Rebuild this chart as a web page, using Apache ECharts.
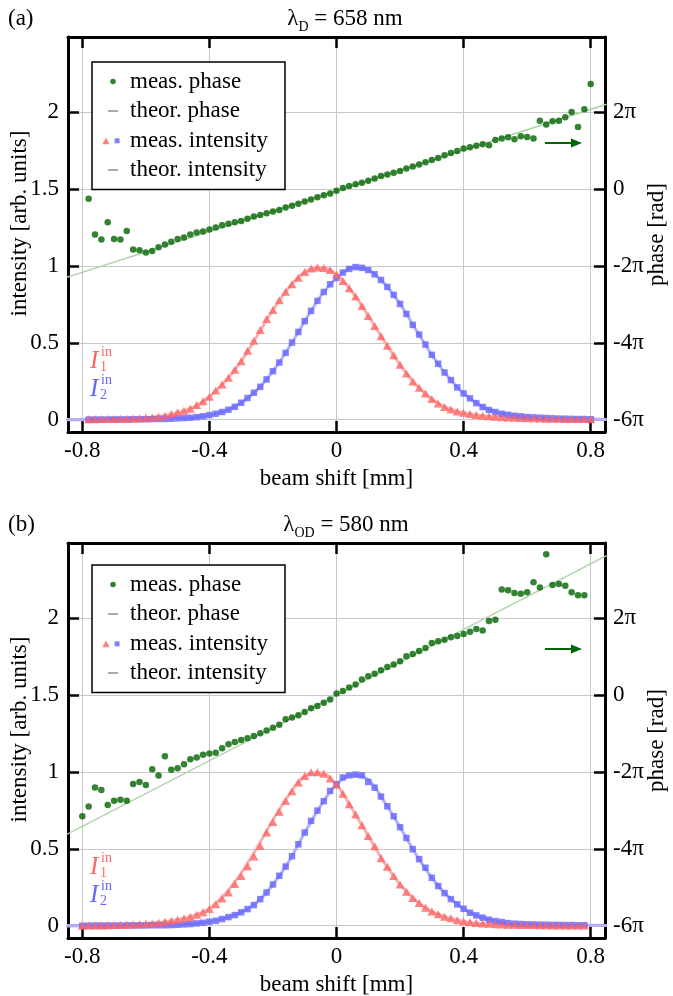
<!DOCTYPE html>
<html>
<head>
<meta charset="utf-8">
<script src="https://cdn.jsdelivr.net/npm/echarts@6/dist/echarts.min.js"></script>
<style>
html, body { margin: 0; padding: 0; background: #fff; }
#chart { width: 673px; height: 996px; }
</style>
</head>
<body>
<div id="chart"></div>
<script>
// beam shift [mm] of the measured points (both panels)
var shift = [
  -0.80, -0.78, -0.76, -0.74, -0.72, -0.70, -0.68, -0.66, -0.64, -0.62,
  -0.60, -0.58, -0.56, -0.54, -0.52, -0.50, -0.48, -0.46, -0.44, -0.42,
  -0.40, -0.38, -0.36, -0.34, -0.32, -0.30, -0.28, -0.26, -0.24, -0.22,
  -0.20, -0.18, -0.16, -0.14, -0.12, -0.10, -0.08, -0.06, -0.04, -0.02,
  0.00, 0.02, 0.04, 0.06, 0.08, 0.10, 0.12, 0.14, 0.16, 0.18,
  0.20, 0.22, 0.24, 0.26, 0.28, 0.30, 0.32, 0.34, 0.36, 0.38,
  0.40, 0.42, 0.44, 0.46, 0.48, 0.50, 0.52, 0.54, 0.56, 0.58,
  0.60, 0.62, 0.64, 0.66, 0.68, 0.70, 0.72, 0.74, 0.76, 0.78,
  0.80
];

// measured phase, in units of pi rad
var phaseA = [
  null, -0.25, -1.18, -1.31, -0.86, -1.30, -1.31, -1.09, -1.57, -1.59,
  -1.65, -1.61, -1.51, -1.44, -1.37, -1.30, -1.26, -1.18, -1.13, -1.10,
  -1.05, -1.00, -0.94, -0.90, -0.86, -0.83, -0.77, -0.71, -0.67, -0.63,
  -0.58, -0.54, -0.48, -0.43, -0.38, -0.32, -0.27, -0.21, -0.16, -0.11,
  -0.04, 0.03, 0.08, 0.13, 0.17, 0.22, 0.28, 0.34, 0.38, 0.43,
  0.47, 0.54, 0.59, 0.64, 0.70, 0.76, 0.81, 0.88, 0.94, 0.99,
  1.06, 1.09, 1.13, 1.17, 1.14, 1.28, 1.32, 1.35, 1.30, 1.38,
  1.36, 1.32, 1.78, 1.68, 1.77, 1.78, 1.87, 2.01, 1.62, 2.08,
  2.74
];
var phaseB = [
  -3.15, -2.90, -2.40, -2.47, -2.86, -2.75, -2.72, -2.75, -2.31, -2.26,
  -2.34, -1.93, -2.09, -1.59, -1.94, -1.90, -1.80, -1.67, -1.62, -1.55,
  -1.52, -1.50, -1.38, -1.28, -1.22, -1.17, -1.12, -1.06, -0.99, -0.92,
  -0.85, -0.77, -0.63, -0.58, -0.52, -0.44, -0.34, -0.28, -0.20, -0.11,
  0.04, 0.11, 0.20, 0.28, 0.41, 0.49, 0.56, 0.65, 0.73, 0.80,
  0.88, 1.01, 1.07, 1.15, 1.23, 1.36, 1.40, 1.44, 1.51, 1.54,
  1.59, 1.65, 1.72, 1.68, 1.93, 1.96, 2.75, 2.73, 2.66, 2.64,
  2.68, 2.94, 2.80, 3.67, 2.87, 2.89, 2.85, 2.68, 2.60, 2.60,
  null
];

// measured intensities I1 (triangles) and I2 (squares)
var int1A = [
  null, 0.003, 0.003, 0.004, 0.004, 0.005, 0.006, 0.007, 0.008, 0.010,
  0.012, 0.015, 0.020, 0.026, 0.037, 0.048, 0.058, 0.072, 0.095, 0.120,
  0.150, 0.190, 0.229, 0.273, 0.325, 0.381, 0.448, 0.513, 0.584, 0.656,
  0.714, 0.777, 0.833, 0.881, 0.924, 0.961, 0.983, 0.991, 0.987, 0.974,
  0.944, 0.903, 0.855, 0.801, 0.740, 0.675, 0.610, 0.543, 0.481, 0.420,
  0.357, 0.301, 0.249, 0.208, 0.171, 0.134, 0.106, 0.082, 0.067, 0.054,
  0.045, 0.037, 0.030, 0.026, 0.022, 0.019, 0.016, 0.014, 0.012, 0.011,
  0.010, 0.009, 0.008, 0.007, 0.007, 0.006, 0.005, 0.005, 0.004, 0.004,
  0.003
];
var int2A = [
  null, 0.001, 0.001, 0.001, 0.001, 0.002, 0.002, 0.002, 0.003, 0.003,
  0.003, 0.004, 0.005, 0.005, 0.006, 0.009, 0.011, 0.013, 0.017, 0.022,
  0.030, 0.039, 0.050, 0.065, 0.084, 0.110, 0.141, 0.175, 0.214, 0.262,
  0.316, 0.372, 0.435, 0.502, 0.571, 0.641, 0.708, 0.773, 0.831, 0.881,
  0.922, 0.957, 0.981, 0.993, 0.988, 0.974, 0.946, 0.909, 0.864, 0.812,
  0.753, 0.688, 0.617, 0.554, 0.489, 0.422, 0.364, 0.307, 0.258, 0.210,
  0.171, 0.139, 0.108, 0.082, 0.063, 0.050, 0.039, 0.032, 0.026, 0.022,
  0.017, 0.015, 0.013, 0.011, 0.009, 0.007, 0.006, 0.005, 0.004, 0.004,
  0.003
];
var int1B = [
  0.000, 0.001, 0.002, 0.002, 0.003, 0.004, 0.005, 0.006, 0.008, 0.010,
  0.012, 0.015, 0.019, 0.025, 0.032, 0.039, 0.048, 0.056, 0.071, 0.087,
  0.108, 0.139, 0.177, 0.216, 0.271, 0.323, 0.387, 0.450, 0.519, 0.606,
  0.675, 0.742, 0.812, 0.874, 0.931, 0.974, 0.998, 0.998, 0.989, 0.957,
  0.918, 0.859, 0.790, 0.723, 0.654, 0.584, 0.517, 0.439, 0.383, 0.323,
  0.268, 0.221, 0.180, 0.147, 0.117, 0.093, 0.074, 0.058, 0.048, 0.035,
  0.028, 0.022, 0.017, 0.014, 0.012, 0.010, 0.008, 0.007, 0.006, 0.005,
  0.004, 0.004, 0.003, 0.003, 0.002, 0.002, 0.002, 0.001, 0.001, 0.001,
  null
];
var int2B = [
  0.000, 0.000, 0.001, 0.001, 0.001, 0.001, 0.001, 0.002, 0.002, 0.002,
  0.002, 0.003, 0.003, 0.003, 0.004, 0.006, 0.009, 0.011, 0.015, 0.019,
  0.026, 0.032, 0.043, 0.056, 0.069, 0.087, 0.108, 0.134, 0.173, 0.216,
  0.268, 0.325, 0.385, 0.452, 0.530, 0.606, 0.682, 0.749, 0.810, 0.877,
  0.920, 0.965, 0.978, 0.983, 0.978, 0.935, 0.898, 0.840, 0.777, 0.712,
  0.641, 0.571, 0.498, 0.433, 0.377, 0.312, 0.258, 0.212, 0.173, 0.139,
  0.110, 0.084, 0.067, 0.052, 0.039, 0.030, 0.024, 0.017, 0.013, 0.011,
  0.009, 0.008, 0.007, 0.006, 0.005, 0.005, 0.004, 0.004, 0.003, 0.003,
  null
];

// theoretical curves
var theoryShift = [
  -0.85, -0.80, -0.75, -0.70, -0.65, -0.60, -0.55, -0.50, -0.45, -0.40,
  -0.35, -0.30, -0.25, -0.20, -0.15, -0.10, -0.05, 0.00, 0.05, 0.10,
  0.15, 0.20, 0.25, 0.30, 0.35, 0.40, 0.45, 0.50, 0.55, 0.60,
  0.65, 0.70, 0.75, 0.80, 0.85
];
var theo1A = [
  0.001, 0.002, 0.003, 0.005, 0.007, 0.012, 0.022, 0.045, 0.082, 0.150,
  0.250, 0.380, 0.545, 0.714, 0.858, 0.961, 0.990, 0.946, 0.830, 0.675,
  0.512, 0.357, 0.228, 0.134, 0.075, 0.045, 0.028, 0.019, 0.013, 0.010,
  0.007, 0.006, 0.004, 0.003, 0.002
];
var theo2A = [
  0.000, 0.000, 0.001, 0.001, 0.002, 0.003, 0.005, 0.009, 0.015, 0.030,
  0.057, 0.110, 0.194, 0.316, 0.468, 0.641, 0.802, 0.922, 0.988, 0.974,
  0.887, 0.753, 0.586, 0.422, 0.282, 0.171, 0.095, 0.050, 0.029, 0.017,
  0.012, 0.007, 0.005, 0.003, 0.002
];
var theo1B = [
  0.000, 0.000, 0.002, 0.004, 0.007, 0.012, 0.022, 0.040, 0.066, 0.112,
  0.208, 0.342, 0.508, 0.688, 0.850, 0.974, 0.995, 0.918, 0.757, 0.584,
  0.411, 0.268, 0.163, 0.093, 0.053, 0.028, 0.015, 0.010, 0.006, 0.004,
  0.003, 0.002, 0.001, 0.001, 0.001
];
var theo2B = [
  0.000, 0.000, 0.001, 0.001, 0.002, 0.002, 0.003, 0.006, 0.013, 0.026,
  0.049, 0.087, 0.153, 0.268, 0.418, 0.606, 0.780, 0.920, 0.981, 0.950,
  0.808, 0.641, 0.465, 0.312, 0.192, 0.110, 0.060, 0.030, 0.015, 0.009,
  0.007, 0.005, 0.004, 0.003, 0.002
];
var phaseLineShift = [-0.85, 0.85];
var phaseTheoA = [-2.30, 2.21];
var phaseTheoB = [-3.63, 3.63];

var intTicks = [0, 0.5, 1, 1.5, 2];
var phaseTicks = [-6, -4, -2, 0, 2];
var shiftTicks = [-0.8, -0.4, 0, 0.4, 0.8];

var FONT = '"Liberation Serif", "Times New Roman", serif';
var GREEN = '#006400';
var RED = '#ff6464';
var BLUE = '#6464ff';
var panelTop = [37, 543];
var legendTop = [62, 565];

function pairs(xs, ys) {
  var out = [];
  for (var i = 0; i < xs.length; i++) {
    if (ys[i] != null) out.push([xs[i], ys[i]]);
  }
  return out;
}

function svgIcon(body) {
  return 'image://data:image/svg+xml;charset=utf-8,' + encodeURIComponent(
    '<svg xmlns="http://www.w3.org/2000/svg" width="25" height="10" viewBox="0 0 25 10">' + body + '</svg>');
}
var iconDot = svgIcon('<circle cx="13" cy="5" r="2.8" fill="' + GREEN + '"/>');
var iconLine = svgIcon('<rect x="8" y="4" width="10" height="2" fill="#aaaaaa"/>');
var iconMeas = svgIcon('<polygon points="2.3,8.8 9.7,8.8 6,2" fill="' + RED + '"/>' +
  '<rect x="14.6" y="2.8" width="5" height="5" fill="' + BLUE + '"/>');

var panels = [
  { phase: phaseA, i1: int1A, i2: int2A, t1: theo1A, t2: theo2A, pt: phaseTheoA },
  { phase: phaseB, i1: int1B, i2: int2B, t1: theo1B, t2: theo2B, pt: phaseTheoB }
];

var grids = [], xAxes = [], yAxes = [], series = [], legends = [];
var txt = { fontFamily: FONT, fontSize: 23, color: '#000' };
var frame = { onZero: false, lineStyle: { color: '#000', width: 3 } };
function ticks(vals) {
  return { inside: true, length: 11, customValues: vals, lineStyle: { color: '#000', width: 2.5 } };
}

panels.forEach(function (p, k) {
  grids.push({
    left: 68, top: panelTop[k], width: 537, height: 395,
    containLabel: false, outerBoundsMode: 'none'
  });
  // bottom and top shift axes
  xAxes.push({
    type: 'value', gridIndex: k, position: 'bottom', min: -0.845, max: 0.845,
    axisLine: frame, axisTick: ticks(shiftTicks),
    axisLabel: Object.assign({ customValues: shiftTicks, margin: 7 }, txt),
    splitLine: { show: true, lineStyle: { color: '#c8c8c8', width: 1 } },
    name: 'beam shift [mm]', nameLocation: 'middle', nameGap: 35, nameMoveOverlap: false,
    nameTextStyle: txt
  });
  xAxes.push({
    type: 'value', gridIndex: k, position: 'top', min: -0.845, max: 0.845,
    axisLine: frame, axisTick: ticks(shiftTicks),
    axisLabel: { show: false }, splitLine: { show: false }
  });
  // intensity (left) and phase (right) axes
  yAxes.push({
    type: 'value', gridIndex: k, position: 'left', min: -0.08, max: 2.49,
    axisLine: frame, axisTick: ticks(intTicks),
    axisLabel: Object.assign({ customValues: intTicks, margin: 9 }, txt),
    splitLine: { show: true, lineStyle: { color: '#c8c8c8', width: 1 } },
    name: 'intensity [arb. units]', nameLocation: 'middle', nameRotate: 90, nameGap: 37,
    nameMoveOverlap: false,
    nameTextStyle: Object.assign({ padding: [0, 0, 0, 22] }, txt)
  });
  yAxes.push({
    type: 'value', gridIndex: k, position: 'right', min: -6.32, max: 3.96,
    axisLine: frame, axisTick: ticks(phaseTicks),
    axisLabel: Object.assign({
      customValues: phaseTicks, margin: 8,
      formatter: function (v) { return v === 0 ? '0' : v + 'π'; }
    }, txt),
    splitLine: { show: false },
    name: 'phase [rad]', nameLocation: 'middle', nameRotate: 90, nameGap: 40,
    nameMoveOverlap: false,
    nameTextStyle: txt
  });

  var xi = 2 * k, yi = 2 * k, yp = 2 * k + 1;
  series.push({
    name: 'theor. intensity', type: 'line', xAxisIndex: xi, yAxisIndex: yi,
    data: pairs(theoryShift, p.t1), smooth: 0.35, showSymbol: false, symbol: 'none',
    lineStyle: { color: '#f7b0b0', width: 3 }, z: 1
  });
  series.push({
    name: 'theor. intensity', type: 'line', xAxisIndex: xi, yAxisIndex: yi,
    data: pairs(theoryShift, p.t2), smooth: 0.35, showSymbol: false, symbol: 'none',
    lineStyle: { color: '#b0b0f7', width: 3 }, z: 1
  });
  series.push({
    name: 'theor. phase', type: 'line', xAxisIndex: xi, yAxisIndex: yp,
    data: pairs(phaseLineShift, p.pt), showSymbol: false, symbol: 'none',
    lineStyle: { color: '#acd3a6', width: 1.4 }, z: 1
  });
  series.push({
    name: 'meas. intensity', type: 'scatter', xAxisIndex: xi, yAxisIndex: yi,
    data: pairs(shift, p.i2), symbol: 'rect', symbolSize: 6.5,
    itemStyle: { color: BLUE }, z: 3
  });
  series.push({
    name: 'meas. intensity', type: 'scatter', xAxisIndex: xi, yAxisIndex: yi,
    data: pairs(shift, p.i1), symbol: 'triangle', symbolSize: [9, 8],
    itemStyle: { color: RED }, z: 3
  });
  series.push({
    name: 'meas. phase', type: 'scatter', xAxisIndex: xi, yAxisIndex: yp,
    data: pairs(shift, p.phase), symbol: 'circle', symbolSize: 6.5,
    itemStyle: { color: GREEN }, z: 4
  });

  legends.push({
    orient: 'vertical', left: 92, top: legendTop[k],
    padding: [8, 17, 8, 8], itemGap: 6.5, itemWidth: 25, itemHeight: 10,
    backgroundColor: '#fff', borderColor: '#000', borderWidth: 1.5, borderRadius: 0,
    selectedMode: false,
    textStyle: { fontFamily: FONT, fontSize: 23, color: '#000', lineHeight: 22 },
    data: [
      { name: 'meas. phase', icon: iconDot },
      { name: 'theor. phase', icon: iconLine },
      { name: 'meas. intensity', icon: iconMeas },
      { name: 'theor. intensity', icon: iconLine }
    ]
  });
});

// panel labels, titles, I labels and the "phase belongs to right axis" arrows
var graphics = [];
var titles = [
  { tag: '(a)', sub: 'D', rest: ' = 658 nm', cx: 345, cy: 19 },
  { tag: '(b)', sub: 'OD', rest: ' = 580 nm', cx: 346, cy: 525 }
];
titles.forEach(function (t, k) {
  var dy = panelTop[k] - panelTop[0];
  graphics.push({
    type: 'text', x: 8, y: t.cy,
    style: { text: t.tag, fontFamily: FONT, fontSize: 23, fill: '#000', verticalAlign: 'middle' }
  });
  graphics.push({
    type: 'text', x: t.cx, y: t.cy,
    style: {
      text: '{m|λ}{s|' + t.sub + '}{m|' + t.rest + '}', align: 'center', verticalAlign: 'middle',
      rich: {
        m: { fontFamily: FONT, fontSize: 23, fill: '#000', lineHeight: 30, verticalAlign: 'middle' },
        s: { fontFamily: FONT, fontSize: 14, fill: '#000', lineHeight: 30, verticalAlign: 'bottom' }
      }
    }
  });
  [[RED, '1', 0], [BLUE, '2', 28]].forEach(function (lab) {
    var y0 = 361 + dy + lab[2];
    graphics.push({
      type: 'text', x: 90, y: y0,
      style: { text: 'I', fontFamily: FONT, fontStyle: 'italic', fontSize: 25, fill: lab[0], verticalAlign: 'middle' }
    });
    graphics.push({
      type: 'text', x: 101, y: y0 - 9,
      style: { text: 'in', fontFamily: FONT, fontSize: 14, fill: lab[0], verticalAlign: 'middle' }
    });
    graphics.push({
      type: 'text', x: 100, y: y0 + 6,
      style: { text: lab[1], fontFamily: FONT, fontSize: 14, fill: lab[0], verticalAlign: 'middle' }
    });
  });
  var ay = 143 + dy;
  graphics.push({
    type: 'line', shape: { x1: 545, y1: ay, x2: 573, y2: ay },
    style: { stroke: GREEN, lineWidth: 2 }
  });
  graphics.push({
    type: 'polygon', shape: { points: [[582, ay], [571, ay - 4.5], [571, ay + 4.5]] },
    style: { fill: GREEN }
  });
});

var chart = echarts.init(document.getElementById('chart'), null, { renderer: 'canvas' });
chart.setOption({
  backgroundColor: '#fff',
  animation: false,
  grid: grids,
  xAxis: xAxes,
  yAxis: yAxes,
  legend: legends,
  series: series,
  graphic: graphics
});
</script>
</body>
</html>
